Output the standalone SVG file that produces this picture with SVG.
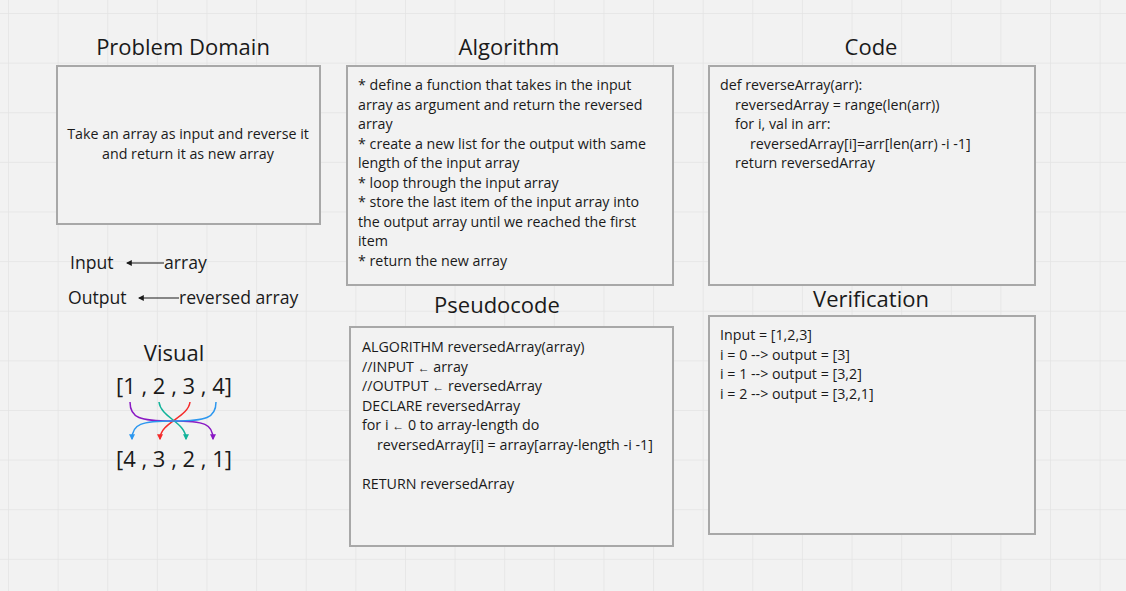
<svg xmlns="http://www.w3.org/2000/svg" width="1126" height="591" viewBox="0 0 1126 591">
<defs>
<pattern id="grid" x="8" y="13" width="49.62" height="49.62" patternUnits="userSpaceOnUse">
<path d="M0,0 V49.62 M0,0 H49.62" fill="none" stroke="#e4e4e4" stroke-width="1.5"/>
</pattern>
<marker id="ab" viewBox="0 0 10 10" refX="8" refY="5" markerWidth="5" markerHeight="5" orient="auto-start-reverse"><path d="M0,0 L10,5 L0,10 z" fill="#1a1a1a"/></marker>
<marker id="mp" viewBox="0 0 10 10" refX="8" refY="5" markerWidth="4" markerHeight="4" orient="auto"><path d="M0,0 L10,5 L0,10 z" fill="#8a19c4"/></marker>
<marker id="mg" viewBox="0 0 10 10" refX="8" refY="5" markerWidth="4" markerHeight="4" orient="auto"><path d="M0,0 L10,5 L0,10 z" fill="#12b39a"/></marker>
<marker id="mr" viewBox="0 0 10 10" refX="8" refY="5" markerWidth="4" markerHeight="4" orient="auto"><path d="M0,0 L10,5 L0,10 z" fill="#f52a2a"/></marker>
<marker id="mb" viewBox="0 0 10 10" refX="8" refY="5" markerWidth="4" markerHeight="4" orient="auto"><path d="M0,0 L10,5 L0,10 z" fill="#2c97ef"/></marker>
</defs>
<style>
text{font-family:"Open Sans","Noto Sans","Liberation Sans",sans-serif;fill:#1a1a1a}
.t{font-size:22px}
.b{font-size:14.25px}
.l{font-size:17.6px}
.box{fill:#f2f2f2;stroke:#a8a8a8;stroke-width:2}
.sm{font-size:12px}
</style>
<rect width="1126" height="591" fill="#f2f2f2"/>
<rect width="1126" height="591" fill="url(#grid)"/>

<g id="problem-domain">
<text class="t" x="183" y="55" text-anchor="middle">Problem Domain</text>
<rect class="box" x="57" y="66" width="263" height="158"/>
<text class="b" text-anchor="middle" x="188"><tspan x="188" y="139">Take an array as input and reverse it</tspan><tspan x="188" y="159">and return it as new array</tspan></text>
</g>

<g id="algorithm">
<text class="t" x="509" y="55" text-anchor="middle">Algorithm</text>
<rect class="box" x="347" y="66" width="326" height="219"/>
<text class="b"><tspan x="358" y="90">* define a function that takes in the input</tspan><tspan x="358" y="109.5">array as argument and return the reversed</tspan><tspan x="358" y="129">array</tspan><tspan x="358" y="148.5">* create a new list for the output with same</tspan><tspan x="358" y="168">length of the input array</tspan><tspan x="358" y="187.5">* loop through the input array</tspan><tspan x="358" y="207">* store the last item of the input array into</tspan><tspan x="358" y="226.5">the output array until we reached the first</tspan><tspan x="358" y="246">item</tspan><tspan x="358" y="265.5">* return the new array</tspan></text>
</g>

<g id="code">
<text class="t" x="871" y="55" text-anchor="middle">Code</text>
<rect class="box" x="709" y="66" width="326" height="219"/>
<text class="b"><tspan x="720" y="90">def reverseArray(arr):</tspan><tspan x="735" y="109.5">reversedArray = range(len(arr))</tspan><tspan x="735" y="129">for i, val in arr:</tspan><tspan x="750" y="148.5">reversedArray[i]=arr[len(arr) -i -1]</tspan><tspan x="735" y="168">return reversedArray</tspan></text>
</g>

<g id="pseudocode">
<text class="t" x="497" y="313" text-anchor="middle">Pseudocode</text>
<rect class="box" x="350" y="327" width="323" height="219"/>
<text class="b"><tspan x="362" y="352">ALGORITHM reversedArray(array)</tspan><tspan x="362" y="371.5">//INPUT <tspan class="sm">←</tspan> array</tspan><tspan x="362" y="391">//OUTPUT <tspan class="sm">←</tspan> reversedArray</tspan><tspan x="362" y="410.5">DECLARE reversedArray</tspan><tspan x="362" y="430">for i <tspan class="sm">←</tspan> 0 to array-length do</tspan><tspan x="377" y="449.5">reversedArray[i] = array[array-length -i -1]</tspan><tspan x="362" y="488.5">RETURN reversedArray</tspan></text>
</g>

<g id="verification">
<text class="t" x="871" y="307" text-anchor="middle">Verification</text>
<rect class="box" x="709" y="316" width="326" height="218"/>
<text class="b"><tspan x="720" y="340">Input = [1,2,3]</tspan><tspan x="720" y="359.5">i = 0 --&gt; output = [3]</tspan><tspan x="720" y="379">i = 1 --&gt; output = [3,2]</tspan><tspan x="720" y="398.5">i = 2 --&gt; output = [3,2,1]</tspan></text>
</g>

<g id="input">
<text class="l" x="70" y="269">Input</text>
<text class="l" x="164" y="269">array</text>
</g>
<g id="output">
<text class="l" x="68" y="304">Output</text>
<text class="l" x="179" y="304">reversed array</text>
</g>

<g id="visual">
<text class="t" x="174" y="361" text-anchor="middle">Visual</text>
<text class="t" x="174" y="394" text-anchor="middle">[1 , 2 , 3 , 4]</text>
<text class="t" x="174" y="467" text-anchor="middle">[4 , 3 , 2 , 1]</text>
</g>

<g id="connectors" fill="none">
<path d="M164,263 H127" stroke="#1a1a1a" stroke-width="1.2" marker-end="url(#ab)"/>
<path d="M179,298 H139" stroke="#1a1a1a" stroke-width="1.2" marker-end="url(#ab)"/>
<path d="M130,402 C130,418 140,421 172,421 C205,421 213,424 213,439" stroke="#8a19c4" stroke-width="1.5" marker-end="url(#mp)"/>
<path d="M159,402 C161,418 186,422 186,439" stroke="#12b39a" stroke-width="1.5" marker-end="url(#mg)"/>
<path d="M190,402 C188,418 160,422 160,439" stroke="#f52a2a" stroke-width="1.5" marker-end="url(#mr)"/>
<path d="M216,402 C216,418 206,421 174,421 C141,421 132,424 132,439" stroke="#2c97ef" stroke-width="1.5" marker-end="url(#mb)"/>
</g>
</svg>
